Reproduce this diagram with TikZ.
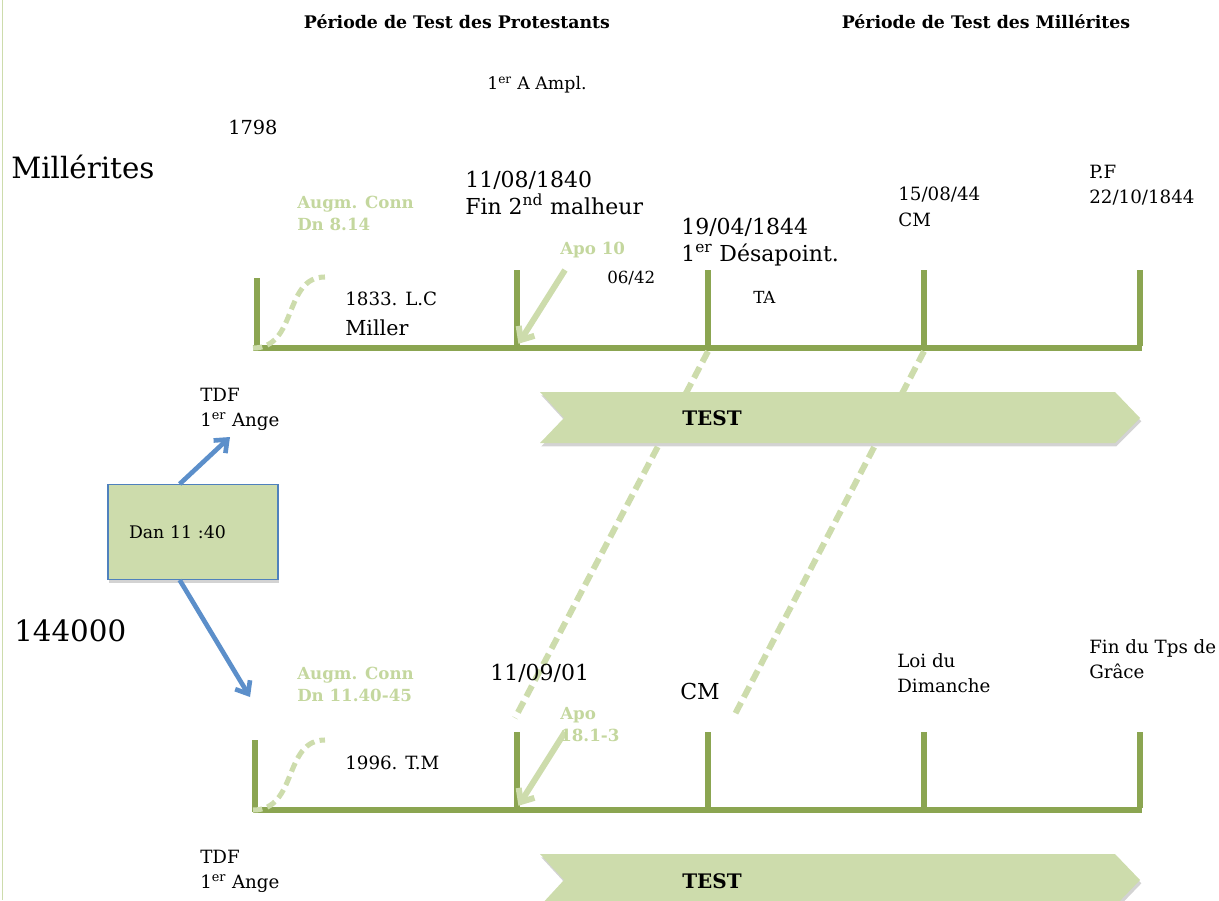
\documentclass[tikz,border=0pt]{standalone}
\usepackage{fontspec}
\setmainfont{DejaVu Serif}
\usetikzlibrary{arrows.meta, positioning, shadows}

\definecolor{olive}{HTML}{8BA551}
\definecolor{vertpale}{HTML}{CDDCAC}
\definecolor{verttexte}{HTML}{C4D79E}
\definecolor{bleu}{HTML}{5C8FCA}
\definecolor{bleubord}{HTML}{4F81BD}

\begin{document}
\begin{tikzpicture}[x=0.75pt, y=-0.75pt, inner sep=0pt]
	\tikzset{%
		axe/.style={olive, line width=3.8pt},
		pointille/.style={vertpale, line width=4.5pt, dash pattern=on 9pt off 4.5pt},
		fleche/.style={bleu, line width=3.5pt, -{Straight Barb[length=8pt, width=13pt]}},
		flechevert/.style={vertpale, line width=4.5pt, -{Straight Barb[length=8pt, width=14pt]}},
		bande/.style={fill=vertpale, drop shadow={opacity=0.35, shadow xshift=1pt, shadow yshift=-2.5pt}},
		titre/.style={font=\fontsize{13}{15}\selectfont\bfseries},
		grand/.style={font=\fontsize{16.5}{20}\selectfont, align=left},
		moyen/.style={font=\fontsize{13.7}{19}\selectfont, align=left},
		petit/.style={font=\fontsize{12.5}{15}\selectfont},
		ref/.style={font=\fontsize{12.5}{16.5}\selectfont\bfseries, text=verttexte, align=left},
		groupe/.style={font=\fontsize{22}{26}\selectfont}
	}
	\useasboundingbox (0,0) rectangle (1219,900);
	\draw[vertpale, line width=1pt] (2.5,0) -- (2.5,900);

	% en-tetes
	\node[titre] (prot) at (457,22) {Période de Test des Protestants};
	\node[titre] (mill) at (986,22) {Période de Test des Millérites};
	\node[font=\fontsize{13}{15}\selectfont, anchor=west] (ampl) at (487,85) {1\textsuperscript{er} A Ampl.};
	\node[font=\fontsize{14.5}{17}\selectfont, anchor=west] (an) at (228,127) {1798};
	\node[groupe, anchor=west] (millerites) at (11,167) {Millérites};
	\node[groupe, anchor=west] (nombre) at (14,631) {144000};

	% bandes TEST
	\path[bande] (540,392) -- (1115,392) -- (1140,418) -- (1115,443) -- (540,443) -- (564,418) -- cycle;
	\node[font=\fontsize{15}{18}\selectfont\bfseries] (test1) at (712,418) {TEST};
	\path[bande] (540,854) -- (1115,854) -- (1140,880) -- (1115,906) -- (540,906) -- (564,880) -- cycle;
	\node[font=\fontsize{15}{18}\selectfont\bfseries] (test2) at (712,881) {TEST};

	% ligne des Millerites
	\coordinate (g1) at (253,348); \coordinate (d1) at (1142,348);
	\draw[axe] (g1) -- (d1);
	\draw[axe] (257,278) coordinate (h1) -- (257,350);
	\foreach \n/\x in {2/517,3/708,4/924,5/1140}
		\draw[axe] (\x,270) coordinate (h\n) -- (\x,346) coordinate (b\n);

	% ligne des 144000
	\coordinate (g2) at (253,810); \coordinate (d2) at (1142,810);
	\draw[axe] (g2) -- (d2);
	\draw[axe] (255,740) coordinate (hh1) -- (255,812);
	\foreach \n/\x in {2/517,3/708,4/924,5/1140}
		\draw[axe] (\x,732) coordinate (hh\n) -- (\x,808) coordinate (bb\n);

	% courbes et fleches vertes
	\coordinate (s1) at (325,277); \coordinate (s2) at (325,740);
	\draw[pointille, line width=3.8pt, dash pattern=on 7pt off 4pt] (g1) .. controls +(45,0) and +(-42,0) .. (s1);
	\draw[pointille, line width=3.8pt, dash pattern=on 7pt off 4pt] (g2) .. controls +(45,0) and +(-42,0) .. (s2);
	\coordinate (apodebut1) at (565,270); \coordinate (apodebut2) at (565,732);
	\draw[flechevert, shorten >=2pt] (apodebut1) -- (b2);
	\draw[flechevert, shorten >=2pt] (apodebut2) -- (bb2);
	\coordinate (fin1) at (515,718); \coordinate (fin2) at (733,718);
	\draw[pointille] ([yshift=-4pt]b3) -- (fin1);
	\draw[pointille] ([yshift=-4pt]b4) -- (fin2);

	% textes du haut
	\node[ref, anchor=north west] (augm1) at (297,196) {Augm. Conn\\Dn 8.14};
	\node[grand, anchor=north west] (date1) at (465,171) {11/08/1840\\Fin 2\textsuperscript{nd} malheur};
	\node[ref, anchor=west] (apo1) at (560,250) {Apo 10};
	\node[petit, anchor=west] (d0642) at (607,278) {06/42};
	\node[grand, anchor=north west] (date2) at (681,218) {19/04/1844\\1\textsuperscript{er} Désapoint.};
	\node[petit, anchor=west] (ta) at (753,297) {TA};
	\node[moyen, anchor=north west] (date3) at (898,187) {15/08/44\\CM};
	\node[moyen, anchor=north west] (pf) at (1089,165) {P.F\\22/10/1844};
	\node[moyen, anchor=west] (lc) at (345,299) {1833. L.C};
	\node[font=\fontsize{15.5}{18}\selectfont, anchor=west] (miller) at (345,328) {Miller};

	% Dan 11:40
	\node[moyen, anchor=north west] (tdf1) at (200,388) {TDF\\1\textsuperscript{er} Ange};
	\node[draw=bleubord, line width=1pt, fill=vertpale, minimum width=127.5pt, minimum height=71pt,
		text width=96pt, align=left, font=\fontsize{13}{15}\selectfont,
		drop shadow={opacity=0.35, shadow xshift=1pt, shadow yshift=-2.5pt}] (dan) at (193,532) {Dan 11 :40};
	\coordinate (tdfpointe) at (230,437); \coordinate (baspointe) at (250,697);
	\draw[fleche] ([xshift=-10pt]dan.north) -- (tdfpointe);
	\draw[fleche] ([xshift=-10pt]dan.south) -- (baspointe);

	% textes du bas
	\node[ref, anchor=north west] (augm2) at (297,667) {Augm. Conn\\Dn 11.40-45};
	\node[grand, anchor=west] (date5) at (490,673) {11/09/01};
	\node[ref, anchor=north west] (apo2) at (560,707) {Apo\\18.1-3};
	\node[grand, anchor=west] (cm) at (680,691) {CM};
	\node[moyen, anchor=north west] (loi) at (897,653) {Loi du\\Dimanche};
	\node[moyen, anchor=north west] (grace) at (1089,639) {Fin du Tps de\\Grâce};
	\node[moyen, anchor=west] (tm) at (345,763) {1996. T.M};
	\node[moyen, anchor=north west] (tdf2) at (200,850) {TDF\\1\textsuperscript{er} Ange};
\end{tikzpicture}
\end{document}
